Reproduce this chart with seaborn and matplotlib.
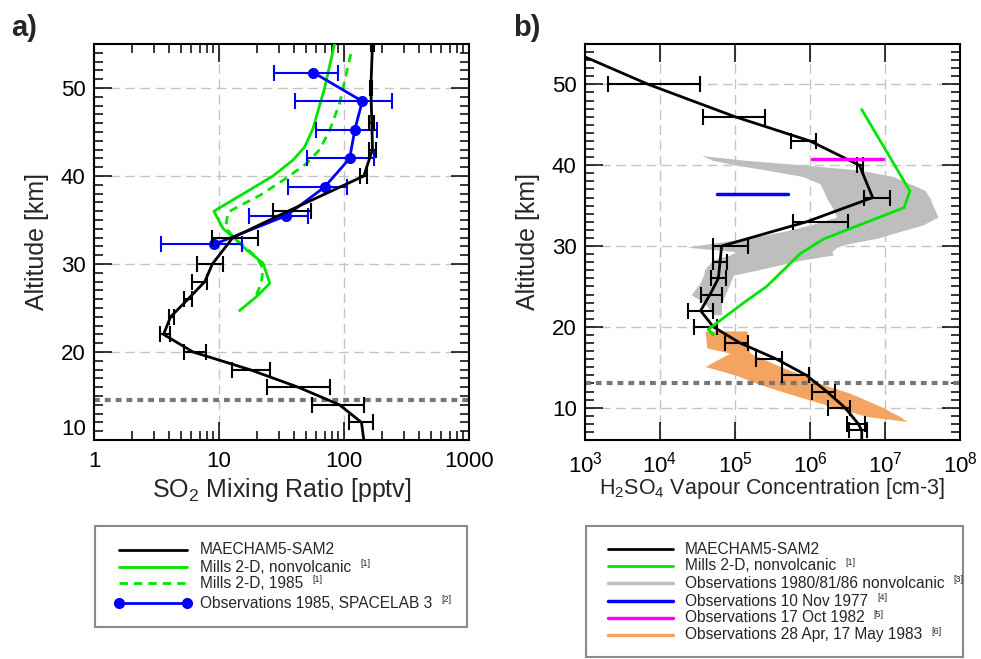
import numpy as np
import matplotlib
matplotlib.use("Agg")
import matplotlib.pyplot as plt
import seaborn as sns
from matplotlib.lines import Line2D
from matplotlib.patches import Rectangle
from matplotlib.ticker import MultipleLocator, LogLocator, NullFormatter

nan = np.nan

# ---------------- panel a : SO2 mixing ratio (pptv) ----------------
so2_model_alt = [10, 12, 14, 16, 18, 20, 22, 24, 26, 28, 30, 33, 36, 40, 43, 46, 50, 55]
so2_model = [144, 138, 92, 43, 17.6, 6.2, 3.6, 4.1, 5.65, 7.7, 8.85, 12.9, 35.6, 144, 169, 167, 164, 169]
so2_model_lo = [nan, 110, 55, 24, 12.6, 5.25, 3.36, 3.96, 5.25, 6.13, 6.67, 8.85, 26.8, 135, 158, 158, 160, 165]
so2_model_hi = [nan, 170, 144, 77, 25.5, 7.9, 4.03, 4.34, 6.09, 8.02, 10.8, 20.5, 54.8, 153, 179, 175, 168, 173]

so2_mills_nv_alt = [24.7, 26.3, 27.8, 30.1, 31.6, 33.1, 34.0, 36.0, 38.2, 40.0, 41.8, 43.3, 45.4, 50.0, 55.0]
so2_mills_nv = [14.6, 20.0, 25.5, 22.5, 16.6, 12.9, 10.8, 9.1, 16.6, 27.0, 39.0, 48.5, 56.5, 70.0, 84.0]

so2_mills85_alt = [26.5, 27.8, 29.5, 30.8, 33.1, 34.2, 35.9, 37.8, 39.5, 41.4, 43.0, 45.2, 48.3, 54.5]
so2_mills85 = [19.9, 21.8, 22.5, 19.9, 12.9, 11.3, 11.8, 21.2, 32.5, 50.0, 63.9, 76.8, 92.4, 116]

so2_obs_alt = [32.25, 35.5, 38.75, 42.0, 45.25, 48.5, 51.75]
so2_obs = [9.2, 34.6, 70, 111, 122, 140, 57]
so2_obs_lo = [3.46, 17.4, 35.6, 50.6, 60.1, 40.3, 27.4]
so2_obs_hi = [15.4, 51.5, 106, 173, 182, 244, 89.5]

so2_tropopause = 14.5
so2_xticks = [1, 10, 100, 1000]
so2_xticklabels = ["1", "10", "100", "1000"]

# ---------------- panel b : H2SO4 vapour (cm-3) ----------------
h2so4_model_alt = [55, 50, 46, 43, 40, 36, 33, 30, 28, 26, 24, 22, 20, 18, 16, 14, 12, 10, 8, 7.2, 6]
h2so4_model = [400, 7.0e3, 1.0e5, 1.0e6, 4.55e6, 6.85e6, 9.0e5, 6.64e4, 6.31e4, 6.0e4, 4.64e4, 3.48e4,
               5.14e4, 1.17e5, 3.6e5, 9.0e5, 1.67e6, 2.93e6, 4.4e6, 4.89e6, 4.9e6]
h2so4_model_lo = [nan, 2.05e3, 3.78e4, 5.58e5, 4.19e6, 5.25e6, 6.0e5, 5.14e4, 5.14e4, 4.79e4, 3.52e4, 2.34e4,
                  2.87e4, 7.36e4, 1.91e5, 4.19e5, 1.05e6, 1.75e6, 3.08e6, 3.34e6, nan]
h2so4_model_hi = [nan, 3.41e4, 2.51e5, 1.2e6, 5.03e6, 1.17e7, 3.18e6, 1.51e5, 7.9e4, 7.59e4, 6.64e4, 5.03e4,
                  5.7e4, 1.51e5, 4.28e5, 9.8e5, 2.15e6, 3.41e6, 5.41e6, 5.81e6, nan]

h2so4_mills_alt = [46.9, 36.8, 34.75, 30.85, 29.05, 25.0, 23.1, 19.7, 19.0]
h2so4_mills = [4.89e6, 2.15e7, 1.79e7, 1.5e6, 7.4e5, 2.64e5, 1.36e5, 4.41e4, 5.14e4]

obs8086_alt = [21.5, 22.9, 24.0, 25.4, 26.4, 27.2, 28.3, 28.9, 29.3, 29.85, 30.25, 30.95, 31.8, 32.6,
               33.6, 34.9, 35.9, 36.9, 37.7, 38.6, 39.4, 40.0, 40.6, 41.2]
obs8086_lo = [5.1e4, 4.0e4, 2.6e4, 3.4e4, 3.8e4, 4.0e4, 5.1e4, 8.6e4, 1.05e5, 2.3e4, 4.2e4, 1.43e5, 4.4e5, 1.0e6,
              2.27e6, 1.95e6, 1.67e6, 1.5e6, 1.36e6, 8.1e5, 2.64e5, 1.05e5, 5.1e4, 3.6e4]
obs8086_hi = [6.6e4, 6.6e4, 7.4e4, 8.6e4, 9.5e4, 2.4e5, 8.1e5, 2.05e6, 1.95e6, 2.27e6, 3.1e6, 7.7e6, 1.58e7, 3.2e7,
              5.1e7, 4.4e7, 4.0e7, 3.4e7, 2.15e7, 1.29e7, 4.6e6, 9.0e5, 1.43e5, 3.6e4]

obs1977_alt = 36.5
obs1977_range = [5.7e4, 5.1e5]
obs1982_alt = 40.8
obs1982_range = [1.05e6, 9.3e6]

obs1983_alt = [8.3, 8.9, 10.2, 11.8, 13.0, 14.0, 15.1, 16.75, 17.4, 19.5]
obs1983_lo = [1.95e7, 5.8e6, 1.86e6, 4.9e5, 1.95e5, 1.05e5, 4.0e4, 8.5e4, 4.2e4, 4.0e4]
obs1983_hi = [1.95e7, 1.58e7, 8.5e6, 3.4e6, 1.35e6, 8.1e5, 4.0e5, 1.58e5, 1.51e5, 1.45e5]

h2so4_tropopause = 13.0
h2so4_xticks = [1e3, 1e4, 1e5, 1e6, 1e7, 1e8]
h2so4_xticklabels = [r"$\mathregular{10^{%d}}$" % e for e in range(3, 9)]

legend_a = ["MAECHAM5-SAM2", "Mills 2-D, nonvolcanic", "Mills 2-D, 1985", "Observations 1985, SPACELAB 3"]
legend_a_refs = ["", "[1]", "[1]", "[2]"]
legend_b = ["MAECHAM5-SAM2", "Mills 2-D, nonvolcanic", "Observations 1980/81/86 nonvolcanic",
            "Observations 10 Nov 1977", "Observations 17 Oct 1982", "Observations 28 Apr, 17 May 1983"]
legend_b_refs = ["", "[1]", "[3]", "[4]", "[5]", "[6]"]

# ---------------- style ----------------
sns.set_theme(style="ticks")
plt.rcParams["font.family"] = ["Liberation Sans", "DejaVu Sans"]
plt.rcParams["mathtext.fontset"] = "custom"
plt.rcParams["mathtext.rm"] = "Liberation Sans"
plt.rcParams["mathtext.it"] = "Liberation Sans:italic"
plt.rcParams["mathtext.bf"] = "Liberation Sans:bold"

BLACK = "#000000"
GREEN = "#00e600"
BLUE = "#0000ff"
MAGENTA = "#ff00ff"
GRAY_FILL = "#bebebe"
ORANGE = "#f4a460"
TROP = "#777777"
GRID = "#c4c4c4"

W, H = 981, 659
fig = plt.figure(figsize=(W / 100, H / 100), dpi=100)
fig.patch.set_facecolor("white")


def fx(px):
    return px / W


def fy(py):
    return 1 - py / H


axa = fig.add_axes([fx(94), fy(440), 375 / W, 396 / H])
axb = fig.add_axes([fx(585), fy(440), 375 / W, 396 / H])

TICK_FS = 16


def style_axis(ax):
    ax.set_facecolor("white")
    for s in ax.spines.values():
        s.set_linewidth(1.5)
        s.set_color("black")
        s.set_visible(True)
    ax.tick_params(which="both", direction="in", top=True, right=True, colors="black",
                   labelsize=TICK_FS, width=1.1)
    ax.tick_params(which="major", length=13)
    ax.tick_params(which="minor", length=6.5)
    ax.tick_params(axis="x", which="major", pad=8)
    ax.tick_params(axis="y", which="major", pad=6)
    ax.yaxis.set_minor_locator(MultipleLocator(1))
    ax.xaxis.set_minor_locator(LogLocator(base=10, subs=np.arange(2, 10)))
    ax.xaxis.set_minor_formatter(NullFormatter())
    ax.grid(True, which="major", color=GRID, lw=1.0, ls=(0, (7, 4)))
    ax.set_axisbelow(True)


def err_bars(ax, alt, val, lo, hi, color, lw=1.5):
    alt = np.asarray(alt, float)
    val = np.asarray(val, float)
    lo = np.asarray(lo, float)
    hi = np.asarray(hi, float)
    m = ~np.isnan(lo)
    ax.errorbar(val[m], alt[m], xerr=[val[m] - lo[m], hi[m] - val[m]], fmt="none",
                ecolor=color, elinewidth=lw, capsize=5.5, capthick=lw, zorder=6)


# ---------------- panel a ----------------
axa.set_xscale("log")
style_axis(axa)
axa.axhline(so2_tropopause, color=TROP, lw=3, ls=(0, (1.4, 1.2)), zorder=2)
sns.lineplot(x=so2_mills_nv, y=so2_mills_nv_alt, sort=False, estimator=None, color=GREEN, lw=2.0, ax=axa, zorder=3)
sns.lineplot(x=so2_mills85, y=so2_mills85_alt, sort=False, estimator=None, color=GREEN, lw=2.0, ax=axa, zorder=3,
             dashes=False, linestyle=(0, (3.0, 2.2)))
err_bars(axa, so2_obs_alt, so2_obs, so2_obs_lo, so2_obs_hi, BLUE)
sns.lineplot(x=so2_obs, y=so2_obs_alt, sort=False, estimator=None, color=BLUE, lw=2.0, marker="o",
             markersize=8, markeredgewidth=0, ax=axa, zorder=5)
err_bars(axa, so2_model_alt, so2_model, so2_model_lo, so2_model_hi, BLACK)
sns.lineplot(x=so2_model, y=so2_model_alt, sort=False, estimator=None, color=BLACK, lw=2.0, ax=axa, zorder=7)

axa.set_xlim(1, 1000)
axa.set_ylim(10, 55)
axa.set_xticks(so2_xticks)
axa.set_xticklabels(so2_xticklabels)
axa.set_yticks([10, 20, 30, 40, 50])
axa.set_yticklabels(["10", "20", "30", "40", "50"])
for t in axa.yaxis.get_major_ticks():
    if t.label1.get_text() == "10":
        t.label1.set_verticalalignment("bottom")
axa.set_xlabel(r"SO$_\mathregular{2}$ Mixing Ratio [pptv]", fontsize=18)
axa.set_ylabel("Altitude [km]", fontsize=18)
axa.xaxis.set_label_coords(0.5, -0.09)
axa.yaxis.set_label_coords(-0.12, 0.5)

# ---------------- panel b ----------------
axb.set_xscale("log")
style_axis(axb)
axb.fill_betweenx(obs8086_alt, obs8086_lo, obs8086_hi, color=GRAY_FILL, lw=0, zorder=1)
axb.fill_betweenx(obs1983_alt, obs1983_lo, obs1983_hi, color=ORANGE, lw=0, zorder=1)
axb.axhline(h2so4_tropopause, color=TROP, lw=3, ls=(0, (1.4, 1.2)), zorder=2)
err_bars(axb, h2so4_model_alt, h2so4_model, h2so4_model_lo, h2so4_model_hi, BLACK)
sns.lineplot(x=h2so4_model, y=h2so4_model_alt, sort=False, estimator=None, color=BLACK, lw=2.0, ax=axb, zorder=7)
sns.lineplot(x=h2so4_mills, y=h2so4_mills_alt, sort=False, estimator=None, color=GREEN, lw=2.0, ax=axb, zorder=8)
sns.lineplot(x=obs1977_range, y=[obs1977_alt, obs1977_alt], color=BLUE, lw=2.5, ax=axb, zorder=8)
sns.lineplot(x=obs1982_range, y=[obs1982_alt, obs1982_alt], color=MAGENTA, lw=2.5, ax=axb, zorder=8)

axb.set_xlim(1e3, 1e8)
axb.set_ylim(6, 55)
axb.set_xticks(h2so4_xticks)
axb.set_xticklabels(h2so4_xticklabels)
axb.set_yticks([10, 20, 30, 40, 50])
axb.set_yticklabels(["10", "20", "30", "40", "50"])
axb.set_xlabel(r"H$_\mathregular{2}$SO$_\mathregular{4}$ Vapour Concentration [cm-3]", fontsize=15.5)
axb.set_ylabel("Altitude [km]", fontsize=18)
axb.xaxis.set_label_coords(0.5, -0.09)
axb.yaxis.set_label_coords(-0.12, 0.5)

for ax in (axa, axb):
    leg = ax.get_legend()
    if leg is not None:
        leg.remove()

# ---------------- panel labels ----------------
fig.text(fx(11), fy(28), "a)", fontsize=21, fontweight="bold", ha="left", va="center")
fig.text(fx(513), fy(28), "b)", fontsize=21, fontweight="bold", ha="left", va="center")

# ---------------- legends (drawn as boxes below each panel) ----------------
LEG_FS = 11.2
REF_FS = 6.5
renderer = fig.canvas.get_renderer()


def legend_box(x0, y0, x1, y1):
    fig.add_artist(Rectangle((fx(x0), fy(y1)), fx(x1) - fx(x0), fy(y0) - fy(y1),
                             transform=fig.transFigure, facecolor="white",
                             edgecolor="#8a8a8a", lw=1.5, zorder=1))


def legend_row(xl0, xl1, xt, y, label, ref, **line_kw):
    fig.add_artist(Line2D([fx(xl0), fx(xl1)], [fy(y), fy(y)], transform=fig.transFigure, zorder=3, **line_kw))
    t = fig.text(fx(xt), fy(y), label, fontsize=LEG_FS, ha="left", va="center", zorder=3)
    if ref:
        bb = t.get_window_extent(renderer=renderer)
        fig.text(fx(bb.x1 + 9), fy(y - 8), ref, fontsize=REF_FS, ha="left", va="top", zorder=3)


legend_box(95, 526, 467, 627)
a_rows = [550, 567, 583, 603]
a_styles = [dict(color=BLACK, lw=2.0),
            dict(color=GREEN, lw=2.0),
            dict(color=GREEN, lw=2.0, ls=(0, (3.0, 2.2))),
            dict(color=BLUE, lw=2.0, marker="o", markersize=8, markeredgewidth=0, markevery=[0, 1])]
for y, lab, ref, st in zip(a_rows, legend_a, legend_a_refs, a_styles):
    legend_row(119, 187, 200, y, lab, ref, **st)

legend_box(586, 526, 963, 657)
b_rows = [549, 566, 583, 601, 618, 635]
b_styles = [dict(color=BLACK, lw=2.0), dict(color=GREEN, lw=2.0), dict(color=GRAY_FILL, lw=2.5),
            dict(color=BLUE, lw=2.5), dict(color=MAGENTA, lw=2.5), dict(color=ORANGE, lw=2.5)]
for y, lab, ref, st in zip(b_rows, legend_b, legend_b_refs, b_styles):
    legend_row(608, 673, 685, y, lab, ref, **st)

fig.savefig("out.png", dpi=100, facecolor="white")
